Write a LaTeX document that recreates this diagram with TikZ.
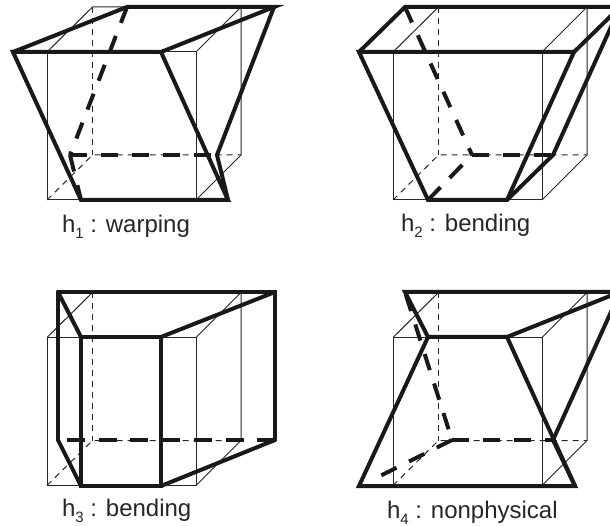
\documentclass[tikz,border=0pt]{standalone}
\usepackage{fontspec}
\setmainfont{Liberation Sans}
\newcommand{\thincube}[2]{%
  \begin{scope}[shift={(#1,#2)}]
    \coordinate (fa) at (0,0); \coordinate (fb) at (149,0);
    \coordinate (fc) at (149,148); \coordinate (fd) at (0,148);
    \coordinate (ba) at (45.5,-45); \coordinate (bb) at (194,-45);
    \coordinate (bc) at (194,103); \coordinate (bd) at (45.5,103);
    \draw[cubeline] (fd) -- (fa) -- (fb) -- (fc) -- cycle;
    \draw[cubeline] (fa) -- (ba) -- (bb) -- (fb);
    \draw[cubeline] (bb) -- (bc) -- (fc);
    \draw[cubehidden] (ba) -- (bd);
    \draw[cubehidden] (fd) -- (bd) -- (bc);
  \end{scope}}
\newcommand{\hlabel}[4]{\node[hlabel] (#1) at (#2,#3) {#4};}
\newcommand{\sub}[1]{\raisebox{-0.25em}{\fontsize{15}{15}\selectfont #1}}
\tikzset{
  cubeline/.style={line width=1pt, draw=black!85},
  cubehidden/.style={line width=1pt, draw=black!85, dash pattern=on 6pt off 5pt},
  heavy/.style={line width=4pt, draw=black!90, line cap=round, line join=miter},
  heavydash/.style={line width=4pt, draw=black!90, dash pattern=on 17pt off 14pt},
  hlabel/.style={anchor=base west, inner sep=0pt, outer sep=0pt, text=black!85, font=\fontsize{24}{28}\selectfont},
}
\begin{document}
\begin{tikzpicture}[x=1pt,y=-1pt]
\useasboundingbox (0,0) rectangle (610,526);
\clip (0,0) rectangle (610,526);
\fill[white] (0,0) rectangle (610,526);
% cubes
\thincube{47}{52}
\thincube{393}{52}
\thincube{47}{337.5}
\thincube{393}{337.5}
% h1
\coordinate (a1) at (13,52); \coordinate (a2) at (161,52); \coordinate (a3) at (228,200); \coordinate (a4) at (81,200);
\coordinate (a5) at (127,7); \coordinate (a6) at (274,7); \coordinate (a7) at (217,155); \coordinate (a8) at (70,155);
\draw[heavydash] (a5) -- (a8);
\draw[heavydash] (a8) -- (a7);
\draw[heavydash] (a8) -- (a4);
\draw[heavy] (a1) -- (a2) -- (a3) -- (a4) -- cycle;
\draw[heavy] (a1) -- (a5) -- (a6) -- (a2);
\draw[heavy] (a6) -- (a7) -- (a3);
% h2
\coordinate (b1) at (359,52); \coordinate (b2) at (574,52); \coordinate (b3) at (507,200); \coordinate (b4) at (428,200);
\coordinate (b5) at (405,7); \coordinate (b6) at (620,7); \coordinate (b7) at (553,155); \coordinate (b8) at (472,155);
\draw[heavydash] (b5) -- (b8);
\draw[heavydash] (b8) -- (b7);
\draw[heavydash, dash pattern=on 18pt off 13pt] (b4) -- (b8);
\draw[heavy] (b1) -- (b2) -- (b3) -- (b4) -- cycle;
\draw[heavy] (b1) -- (b5) -- (b6) -- (b2);
\draw[heavy] (b6) -- (b7) -- (b3);
% h3
\coordinate (c1) at (81,337); \coordinate (c2) at (161,337); \coordinate (c3) at (161,486); \coordinate (c4) at (81,486);
\coordinate (c5) at (58,292); \coordinate (c6) at (275,292); \coordinate (c7) at (275,440); \coordinate (c8) at (58,440);
\coordinate (c9) at (67,440);
\draw[heavydash, dash pattern=on 18pt off 13.7pt] (c9) -- (c7);
\draw[heavy] (c1) -- (c2) -- (c3) -- (c4) -- cycle;
\draw[heavy] (c5) -- (c6) -- (c7);
\draw[heavy] (c5) -- (c8);
\draw[heavy] (c5) -- (c1);
\draw[heavy] (c8) -- (c4);
\draw[heavy] (c2) -- (c6);
\draw[heavy] (c3) -- (c7);
% h4
\coordinate (d1) at (428,337); \coordinate (d2) at (507,337); \coordinate (d3) at (575,486); \coordinate (d4) at (359,486);
\coordinate (d5) at (405,292); \coordinate (d6) at (620,292); \coordinate (d7) at (553,440); \coordinate (d8) at (452,440);
\coordinate (d9) at (378,477);
\draw[heavydash, dash phase=28pt] (d5) -- (d8);
\draw[heavydash] (d8) -- (d7);
\draw[heavydash] (d8) -- (d9);
\draw[heavy] (d1) -- (d2) -- (d3) -- (d4) -- cycle;
\draw[heavy] (d1) -- (d5) -- (d6) -- (d2);
\draw[heavy] (d6) -- (d7) -- (d3);
% labels
\hlabel{l1}{62}{233}{h\sub{1} : warping}
\hlabel{l2}{401}{232}{h\sub{2} : bending}
\hlabel{l3}{62}{516}{h\sub{3} : bending}
\hlabel{l4}{387}{518}{h\sub{4} : nonphysical}
\end{tikzpicture}
\end{document}
